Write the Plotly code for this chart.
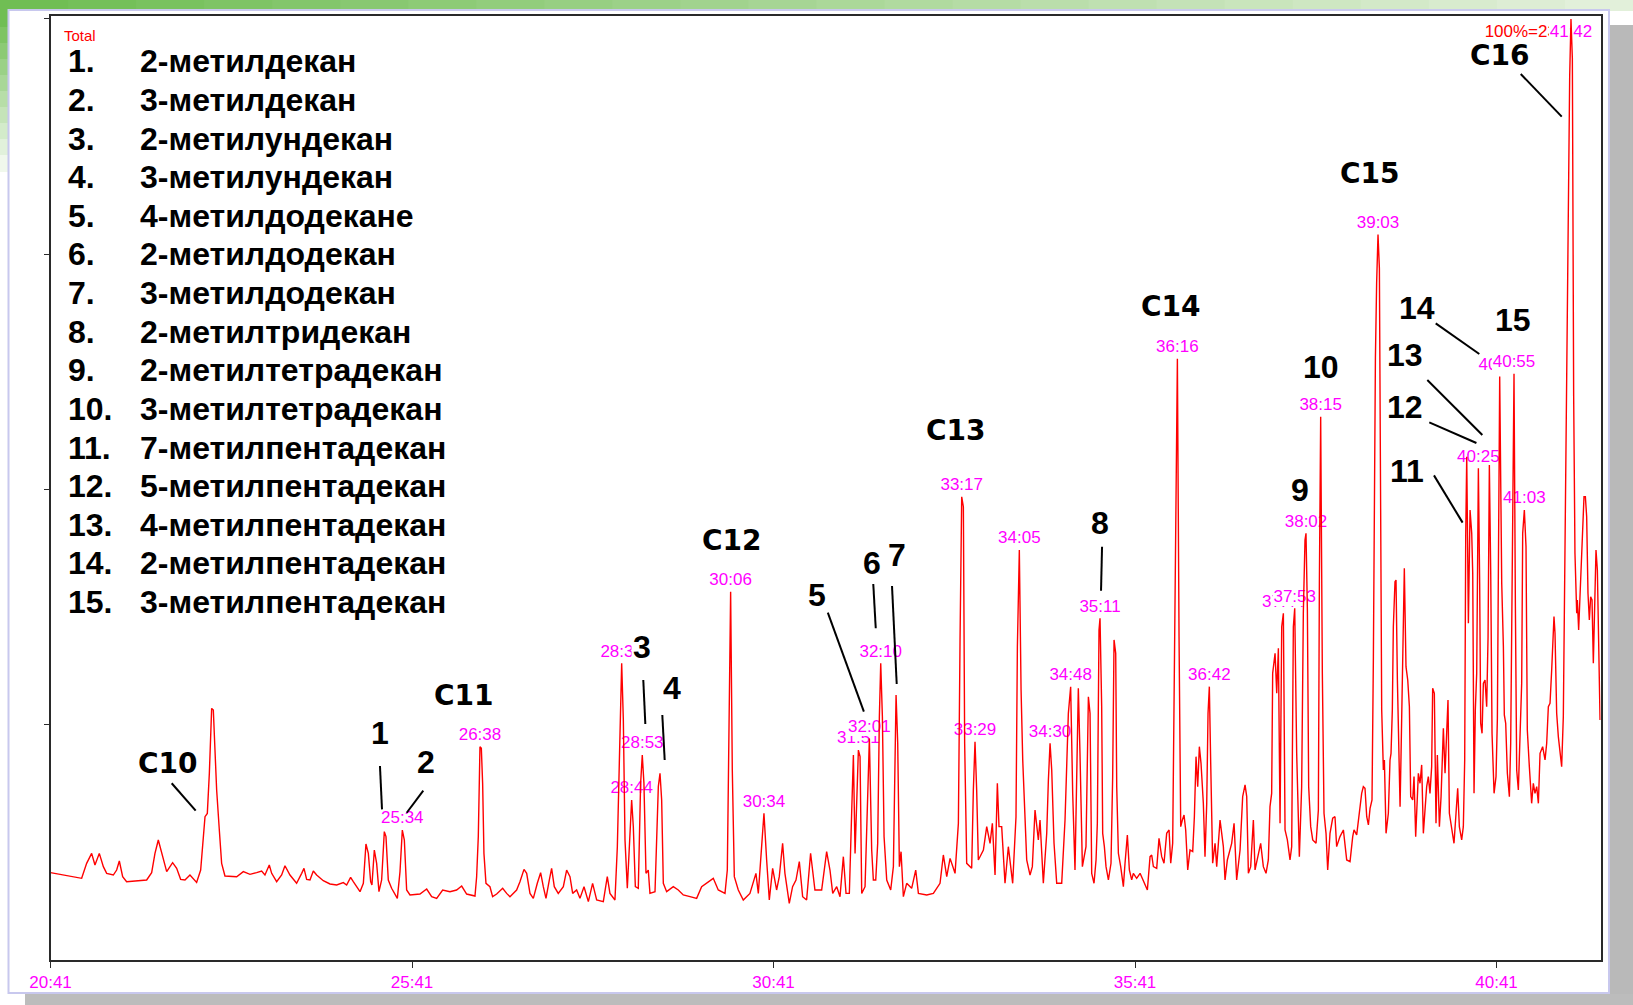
import plotly.graph_objects as go

W, H = 1633, 1005

# ---------------- chromatogram: retention time (min) / relative abundance (%) ----------------
rt_20_24 = [20.683, 21.114, 21.183, 21.252, 21.298, 21.358, 21.414, 21.460, 21.552, 21.598,
            21.635, 21.681, 21.736, 21.875, 22.013, 22.082, 22.128, 22.174, 22.234, 22.290,
            22.372, 22.428, 22.483, 22.543, 22.612, 22.704, 22.760, 22.797, 22.820, 22.852,
            22.880, 22.912, 22.935, 22.958, 22.981, 23.018, 23.050, 23.096, 23.258, 23.350,
            23.442, 23.534, 23.603, 23.649, 23.709, 23.742, 23.811, 23.880, 23.926, 23.995,
            24.087, 24.157, 24.189, 24.226, 24.272]
ab_20_24 = [9.28, 8.68, 10.27, 11.33, 10.09, 11.33, 9.92, 9.21, 9.03, 9.56,
            10.52, 8.85, 8.32, 8.43, 8.50, 9.28, 11.33, 12.75, 10.98, 9.39,
            10.34, 9.74, 8.57, 8.50, 9.03, 8.25, 9.56, 12.75, 15.23, 15.58,
            19.83, 26.74, 26.56, 22.31, 18.06, 13.81, 10.27, 8.93, 8.85, 9.39,
            9.10, 9.28, 9.46, 9.03, 10.09, 9.21, 8.32, 9.03, 10.02, 9.03,
            8.15, 9.21, 9.74, 8.57, 8.50]

rt_24_27 = [24.318, 24.364, 24.456, 24.549, 24.641, 24.733, 24.779, 24.834, 24.871, 24.964,
            25.010, 25.046, 25.079, 25.111, 25.129, 25.162, 25.194, 25.226, 25.263, 25.300,
            25.323, 25.355, 25.401, 25.480, 25.517, 25.549, 25.577, 25.609, 25.655, 25.793,
            25.886, 25.955, 26.024, 26.107, 26.208, 26.300, 26.370, 26.439, 26.554, 26.577,
            26.600, 26.623, 26.642, 26.660, 26.678, 26.706, 26.761, 26.798, 26.854, 26.937,
            26.992, 27.038, 27.130, 27.176, 27.232, 27.269, 27.315, 27.361, 27.416, 27.462,
            27.499, 27.536, 27.582, 27.614, 27.651, 27.706, 27.776, 27.822, 27.868]
ab_24_27 = [9.46, 9.03, 8.43, 8.08, 7.97, 8.22, 7.97, 8.78, 8.32, 7.26,
            8.15, 12.33, 11.33, 8.32, 7.97, 11.69, 10.27, 7.26, 8.50, 13.64,
            13.11, 8.50, 7.62, 6.55, 9.39, 13.81, 12.75, 7.44, 6.91, 7.01,
            7.54, 6.73, 6.55, 7.44, 7.26, 7.44, 7.86, 7.01, 6.80, 8.85,
            13.11, 22.67, 22.49, 18.77, 11.33, 8.15, 7.79, 6.73, 7.01, 7.62,
            7.08, 6.73, 7.44, 8.32, 9.63, 9.21, 7.08, 6.55, 8.15, 9.28,
            7.79, 6.55, 8.50, 9.74, 7.79, 7.08, 7.79, 9.56, 8.85]

rt_27_31 = [27.905, 27.960, 28.006, 28.062, 28.122, 28.181, 28.237, 28.329, 28.384, 28.421,
            28.490, 28.523, 28.560, 28.583, 28.606, 28.629, 28.661, 28.698, 28.721, 28.744,
            28.772, 28.813, 28.845, 28.868, 28.891, 28.919, 28.951, 28.974, 29.044, 29.090,
            29.113, 29.136, 29.159, 29.205, 29.297, 29.366, 29.435, 29.528, 29.620, 29.689,
            29.758, 29.850, 29.919, 30.012, 30.044, 30.067, 30.090, 30.113, 30.141, 30.196,
            30.265, 30.357, 30.440, 30.473, 30.519, 30.551, 30.588, 30.625, 30.671, 30.726,
            30.763, 30.809, 30.841, 30.901, 30.947, 30.994, 31.040, 31.086, 31.141, 31.196,
            31.256, 31.349, 31.418, 31.464]
ab_27_31 = [7.08, 7.44, 6.55, 7.79, 6.20, 8.15, 6.38, 6.20, 8.86, 7.08,
            6.38, 12.04, 24.09, 31.52, 25.50, 12.75, 7.62, 14.17, 17.00, 14.17,
            7.79, 7.62, 18.77, 21.78, 18.77, 9.21, 9.56, 7.08, 7.26, 18.42,
            19.84, 17.00, 8.15, 7.26, 7.79, 7.44, 6.91, 6.73, 6.55, 7.79,
            8.15, 8.68, 7.44, 7.08, 9.56, 25.50, 39.14, 20.19, 8.86, 7.44,
            6.38, 7.08, 9.21, 7.08, 12.75, 15.59, 10.63, 6.38, 9.74, 7.44,
            8.86, 12.40, 9.21, 6.02, 7.79, 8.50, 10.45, 6.73, 6.38, 11.34,
            7.44, 7.44, 11.51, 9.56]

rt_31_35 = [31.502, 31.557, 31.603, 31.649, 31.686, 31.732, 31.765, 31.788, 31.811, 31.834,
            31.857, 31.880, 31.903, 31.949, 31.981, 32.009, 32.041, 32.064, 32.097, 32.124,
            32.147, 32.166, 32.189, 32.212, 32.249, 32.304, 32.341, 32.364, 32.378, 32.401,
            32.424, 32.447, 32.479, 32.525, 32.594, 32.650, 32.687, 32.802, 32.894, 32.986,
            33.032, 33.079, 33.125, 33.194, 33.240, 33.263, 33.286, 33.309, 33.327, 33.355,
            33.424, 33.447, 33.470, 33.493, 33.516, 33.586, 33.632, 33.678, 33.710, 33.747,
            33.779, 33.802, 33.839, 33.885, 33.931, 33.991, 34.037, 34.056, 34.083, 34.107,
            34.130, 34.185, 34.231, 34.263, 34.300, 34.346, 34.369, 34.415, 34.462, 34.485,
            34.508, 34.531, 34.563, 34.600, 34.669, 34.715, 34.761, 34.793, 34.821, 34.853,
            34.876, 34.899, 34.922, 34.955, 35.005, 35.038, 35.061]
ab_31_35 = [7.08, 7.79, 6.73, 10.98, 7.08, 7.08, 15.94, 21.78, 11.33, 15.94,
            22.31, 21.61, 7.08, 7.79, 16.65, 23.55, 11.69, 8.50, 8.50, 12.40,
            25.86, 31.52, 25.86, 13.11, 8.50, 7.44, 9.92, 23.02, 28.16, 23.02,
            9.92, 11.51, 6.73, 8.15, 7.62, 9.56, 7.08, 6.91, 7.08, 8.15,
            11.16, 8.85, 10.80, 9.21, 14.52, 34.00, 49.23, 48.17, 23.02, 10.27,
            9.74, 18.06, 23.20, 18.06, 10.63, 11.69, 14.17, 12.40, 14.52, 9.03,
            18.77, 14.17, 14.17, 8.15, 12.04, 8.15, 15.23, 33.29, 43.57, 28.69,
            21.25, 10.63, 9.03, 9.92, 15.94, 12.75, 14.88, 8.15, 13.46, 19.13,
            23.02, 20.19, 12.40, 8.15, 8.15, 14.88, 26.21, 29.04, 17.71, 9.56,
            21.96, 28.87, 21.96, 9.92, 12.04, 27.98, 26.21]

rt_35_38 = [35.084, 35.116, 35.144, 35.162, 35.185, 35.199, 35.222, 35.236, 35.259, 35.282,
            35.315, 35.351, 35.374, 35.393, 35.416, 35.430, 35.453, 35.485, 35.522, 35.545,
            35.577, 35.605, 35.637, 35.660, 35.706, 35.753, 35.799, 35.854, 35.891, 35.914,
            35.937, 35.983, 36.015, 36.052, 36.084, 36.121, 36.154, 36.177, 36.204, 36.223,
            36.246, 36.269, 36.292, 36.315, 36.338, 36.361, 36.384, 36.412, 36.444, 36.481,
            36.504, 36.527, 36.550, 36.573, 36.596, 36.628, 36.651, 36.675, 36.693, 36.711,
            36.730, 36.757, 36.790, 36.813, 36.859, 36.905, 36.928, 36.960, 37.020, 37.053,
            37.089, 37.136, 37.172, 37.205, 37.228, 37.251, 37.283, 37.320, 37.343, 37.389,
            37.421, 37.458, 37.495, 37.527, 37.550, 37.573, 37.587, 37.620, 37.643, 37.666,
            37.689, 37.712, 37.735, 37.758, 37.790, 37.827, 37.850, 37.873, 37.892, 37.919,
            37.956, 37.988, 38.011, 38.034, 38.048, 38.067, 38.085, 38.113, 38.141, 38.187,
            38.219, 38.233, 38.251, 38.274, 38.297, 38.325, 38.348, 38.380, 38.417, 38.449,
            38.472, 38.518, 38.565, 38.611, 38.657]
ab_35_38 = [9.21, 8.15, 10.63, 14.53, 35.07, 36.31, 26.92, 13.46, 12.05, 9.92,
            8.51, 10.28, 19.49, 34.01, 32.59, 18.42, 11.34, 9.92, 7.80, 10.28,
            13.29, 9.57, 8.51, 9.21, 8.68, 9.21, 8.33, 7.44, 10.98, 11.16,
            9.92, 9.74, 12.93, 10.98, 10.28, 13.46, 13.82, 10.28, 12.40, 29.76,
            51.72, 63.90, 34.36, 14.17, 14.88, 15.41, 13.82, 9.57, 11.69, 11.52,
            15.23, 21.61, 18.42, 22.67, 20.90, 16.65, 10.98, 16.65, 26.22, 29.05,
            20.90, 10.28, 12.40, 9.92, 14.88, 12.05, 8.51, 10.63, 12.40, 14.53,
            8.51, 11.69, 17.36, 18.60, 17.36, 9.21, 9.92, 14.88, 9.57, 11.34,
            12.40, 9.92, 9.21, 10.63, 16.30, 17.71, 30.47, 32.59, 28.34, 33.12,
            14.53, 35.42, 36.84, 13.82, 12.76, 10.63, 12.05, 35.42, 37.37, 21.96,
            10.98, 18.42, 36.84, 44.63, 45.34, 37.20, 18.42, 14.17, 12.76, 12.40,
            15.94, 40.21, 57.74, 30.47, 15.59, 13.46, 9.57, 13.46, 15.06, 15.23,
            12.05, 13.11, 13.82, 10.63, 10.45]

rt_38_42 = [38.694, 38.712, 38.749, 38.786, 38.818, 38.841, 38.864, 38.888, 38.911, 38.934,
            38.961, 38.980, 38.994, 39.008, 39.025, 39.044, 39.063, 39.081, 39.095, 39.118,
            39.132, 39.155, 39.187, 39.210, 39.224, 39.242, 39.256, 39.279, 39.293, 39.312,
            39.335, 39.349, 39.362, 39.385, 39.408, 39.431, 39.455, 39.478, 39.496, 39.524,
            39.542, 39.565, 39.602, 39.625, 39.648, 39.671, 39.717, 39.740, 39.763, 39.786,
            39.800, 39.823, 39.846, 39.865, 39.893, 39.916, 39.948, 39.971, 39.994, 40.012,
            40.031, 40.063, 40.095, 40.123, 40.146, 40.169, 40.201, 40.224, 40.243, 40.257,
            40.271, 40.294, 40.317, 40.340, 40.354, 40.372, 40.390, 40.409, 40.432, 40.450,
            40.464, 40.483, 40.501, 40.524, 40.547, 40.566, 40.584, 40.603, 40.621, 40.649,
            40.676, 40.695, 40.713, 40.727, 40.755, 40.778, 40.791, 40.810, 40.833, 40.861,
            40.879, 40.902, 40.925, 40.944, 40.962, 40.985, 41.008, 41.031, 41.045, 41.068,
            41.091, 41.109, 41.137, 41.169, 41.192, 41.215, 41.239, 41.262, 41.285, 41.321,
            41.354, 41.377, 41.400, 41.423, 41.446, 41.460, 41.478, 41.492, 41.515, 41.538,
            41.561, 41.584, 41.607, 41.630, 41.654, 41.677, 41.695, 41.713, 41.732, 41.750,
            41.768, 41.792, 41.801, 41.819, 41.838, 41.861, 41.875, 41.893, 41.912, 41.930,
            41.948, 41.967, 41.985, 42.004, 42.022, 42.041, 42.059, 42.078, 42.096, 42.115]
ab_38_42 = [13.11, 13.82, 13.29, 15.94, 17.71, 18.42, 18.25, 15.23, 14.35, 16.12,
            17.01, 32.24, 54.20, 64.00, 72.00, 77.10, 73.50, 50.00, 26.57, 20.19,
            21.26, 13.46, 15.59, 21.26, 21.96, 26.57, 35.42, 40.21, 40.38, 29.76,
            18.42, 16.30, 21.61, 32.24, 41.62, 31.17, 29.76, 26.92, 17.36, 17.01,
            19.49, 13.11, 19.84, 18.78, 20.73, 13.46, 18.42, 19.49, 17.71, 20.55,
            28.87, 28.34, 14.53, 21.79, 14.17, 17.36, 24.62, 19.84, 25.15, 27.63,
            15.59, 14.17, 12.40, 15.59, 18.25, 14.17, 12.76, 14.17, 21.26, 44.99,
            53.49, 35.78, 47.82, 45.34, 41.09, 17.71, 26.57, 30.47, 52.25, 40.03,
            25.15, 24.09, 29.40, 29.76, 26.92, 34.36, 52.60, 41.09, 24.09, 17.71,
            19.49, 25.68, 47.47, 62.00, 40.03, 33.30, 26.04, 25.15, 19.84, 17.36,
            23.03, 43.57, 62.30, 37.55, 20.19, 18.07, 23.74, 29.40, 45.34, 47.82,
            43.93, 24.44, 20.55, 16.65, 18.78, 17.71, 18.42, 16.65, 21.96, 22.67,
            21.26, 23.03, 26.92, 27.28, 30.82, 34.36, 36.49, 34.72, 26.22, 23.74,
            22.32, 20.55, 25.86, 43.93, 67.80, 81.50, 93.90, 100.00, 95.80, 60.00,
            43.22, 36.84, 38.26, 35.07, 38.61, 43.93, 47.11, 49.24, 49.24, 47.11,
            38.97, 36.13, 38.61, 38.26, 31.53, 38.97, 43.57, 41.45, 35.07, 25.51]

rt = rt_20_24 + rt_24_27 + rt_27_31 + rt_31_35 + rt_35_38 + rt_38_42
ab = ab_20_24 + ab_24_27 + ab_27_31 + ab_31_35 + ab_35_38 + ab_38_42

# ---------------- retention-time labels above peaks ----------------
peak_txt = ["25:34", "26:38", "28:35", "28:44", "28:53", "30:06", "30:34", "32:10",
            "33:17", "33:29", "34:05", "34:30", "34:48", "35:11", "36:16", "36:42",
            "38:02", "38:15", "39:03", "40:25", "41:03"]
peak_rt = [25.549, 26.623, 28.583, 28.721, 28.868, 30.090, 30.551, 32.166,
           33.286, 33.470, 34.083, 34.508, 34.793, 35.199, 36.269, 36.711,
           38.048, 38.251, 39.044, 40.432, 41.068]
peak_ab = [13.81, 22.67, 31.52, 17.00, 21.78, 39.14, 15.59, 31.52,
           49.23, 23.20, 43.57, 23.02, 29.04, 36.31, 63.90, 29.05,
           45.34, 57.74, 77.10, 52.25, 47.82]

# labels that sit partly behind a neighbouring label
under_txt = ["31:51", "37:44", "40:44"]
under_rt = [31.857, 37.735, 40.727]
under_ab = [22.31, 36.84, 62.00]
over_txt = ["32:01", "37:53", "40:55"]
over_rt = [32.009, 37.892, 40.925]
over_ab = [23.55, 37.37, 62.30]

top_txt = "41:42"
top_rt = 41.713
scale_txt = "100%=23"

# ---------------- compound numbering ----------------
compounds = ["2-метилдекан", "3-метилдекан", "2-метилундекан", "3-метилундекан",
             "4-метилдодекане", "2-метилдодекан", "3-метилдодекан", "2-метилтридекан",
             "2-метилтетрадекан", "3-метилтетрадекан", "7-метилпентадекан",
             "5-метилпентадекан", "4-метилпентадекан", "2-метилпентадекан",
             "3-метилпентадекан"]
num_rt = [25.240, 25.877, 28.860, 29.275, 31.289, 32.050, 32.387, 35.199,
          37.961, 38.250, 39.444, 39.418, 39.418, 39.579, 40.915]
num_ab = [24.09, 21.07, 33.30, 28.87, 38.79, 42.16, 43.04, 46.41,
          50.00, 63.06, 51.98, 58.75, 64.29, 69.25, 68.01]
# leader lines: (label, rt from, abundance from, rt to, abundance to)
leaders = [("1", 25.240, 20.62, 25.268, 16.01),
           ("2", 25.839, 17.99, 25.610, 15.65),
           ("3", 28.882, 29.76, 28.910, 25.08),
           ("4", 29.145, 26.04, 29.178, 21.25),
           ("5", 31.434, 36.91, 31.933, 26.39),
           ("6", 32.063, 39.96, 32.097, 35.25),
           ("7", 32.322, 39.74, 32.387, 29.33),
           ("8", 35.227, 43.92, 35.213, 39.25),
           ("11", 39.818, 51.50, 40.214, 46.48),
           ("12", 39.753, 57.14, 40.405, 54.94),
           ("13", 39.726, 61.64, 40.487, 55.80),
           ("14", 39.842, 67.66, 40.445, 64.40),
           ("C10", 22.359, 18.78, 22.691, 15.87),
           ("C16", 41.018, 94.15, 41.585, 89.62)]

alkanes = ["C10", "C11", "C12", "C13", "C14", "C15", "C16"]
alk_rt = [22.312, 26.409, 30.112, 33.209, 36.175, 38.933, 40.731]
alk_ab = [20.90, 28.09, 44.58, 56.31, 69.48, 83.60, 96.17]

tick_rt = [20.6833, 25.6833, 30.6833, 35.6833, 40.6833]
tick_txt = ["20:41", "25:41", "30:41", "35:41", "40:41"]

# ---------------- geometry ----------------
X_LEFT, X_RIGHT = 50.5, 1600.7       # plot frame, px
Y_TOP, Y_BOTTOM = 15.7, 960.0
RT_MIN, RT_MAX = 20.683, 42.124
AB_MAX = 100.35
px_per_min = (X_RIGHT - X_LEFT) / (RT_MAX - RT_MIN)
px_per_pct = (Y_BOTTOM - Y_TOP) / AB_MAX

MAGENTA = "#ff00ff"
SANS = "Liberation Sans, Arial, sans-serif"
LBL_FONT = dict(family=SANS, size=17, color=MAGENTA)

fig = go.Figure()


def white_box(x, y_bottom, half_w_px, h_px):
    dx = half_w_px / px_per_min
    dy = h_px / px_per_pct
    fig.add_trace(go.Scatter(
        x=[x - dx, x + dx, x + dx, x - dx, x - dx],
        y=[y_bottom, y_bottom, y_bottom + dy, y_bottom + dy, y_bottom],
        mode="lines", fill="toself", fillcolor="white", line=dict(width=0),
        hoverinfo="skip", showlegend=False))


LIFT = 0.25   # gap between a peak apex and its label, in %
TOP_Y = (Y_BOTTOM - 33) / px_per_pct

# labels partially hidden
fig.add_trace(go.Scatter(x=under_rt, y=[v + LIFT for v in under_ab], text=under_txt,
                         mode="text", textposition="top center", textfont=LBL_FONT,
                         hoverinfo="skip", showlegend=False))
fig.add_trace(go.Scatter(x=[top_rt - 14 / px_per_min], y=[TOP_Y],
                         text=[scale_txt], mode="text", textposition="middle left",
                         textfont=dict(family=SANS, size=17, color="#ff0000"),
                         hoverinfo="skip", showlegend=False))
for x, y in zip(over_rt, over_ab):
    white_box(x, y + LIFT, 22, 19)
white_box(top_rt, TOP_Y - 9.5 / px_per_pct, 22, 19)

# visible labels
fig.add_trace(go.Scatter(x=peak_rt + over_rt, y=[v + LIFT for v in peak_ab + over_ab],
                         text=peak_txt + over_txt, mode="text", textposition="top center",
                         textfont=LBL_FONT, hoverinfo="skip", showlegend=False))
fig.add_trace(go.Scatter(x=[top_rt], y=[TOP_Y], text=[top_txt],
                         mode="text", textposition="middle center", textfont=LBL_FONT,
                         hoverinfo="skip", showlegend=False))

# total ion current trace
fig.add_trace(go.Scatter(x=rt, y=ab, mode="lines", line=dict(color="#ff0000", width=1.4),
                         hoverinfo="skip", showlegend=False))

# ---------------- page decoration ----------------
shapes = []


def prect(x0, y0, x1, y1, color, line=None):
    d = dict(type="rect", xref="paper", yref="paper", x0=x0 / W, x1=x1 / W,
             y0=1 - y1 / H, y1=1 - y0 / H, fillcolor=color, layer="below")
    d["line"] = line if line else dict(width=0)
    shapes.append(d)


# green header band, fading to the right
steps = 24
for i in range(steps):
    f = i / (steps - 1)
    r = int(112 + (226 - 112) * f)
    g = int(190 + (240 - 190) * f)
    b = int(84 + (218 - 84) * f)
    prect(W * i / steps, 0, W * (i + 1) / steps + 1, 11, f"rgb({r},{g},{b})")
# green strip down the left edge
for i in range(10):
    f = i / 9
    r = int(112 + (240 - 112) * f)
    g = int(190 + (248 - 190) * f)
    b = int(84 + (236 - 84) * f)
    prect(0, 11 + 16 * i, 9, 11 + 16 * (i + 1) + 1, f"rgb({r},{g},{b})")
# drop shadow right and bottom
prect(1610, 25, W, H, "#b9b9b9")
prect(25, 994, W, H, "#bcbcbc")
# window frame
prect(8.5, 10, 1609, 993, "white", line=dict(color="#c8c8ee", width=2))

# leader lines
for name, x0, y0, x1, y1 in leaders:
    shapes.append(dict(type="line", xref="x", yref="y", x0=x0, y0=y0, x1=x1, y1=y1,
                       line=dict(color="black", width=2), layer="above"))

# ---------------- annotations ----------------
ann = []
ann.append(dict(text="Total", xref="paper", yref="paper", x=62 / W, y=1 - 35.5 / H,
                xanchor="left", yanchor="middle", showarrow=False,
                font=dict(family=SANS, size=15, color="#ff0000")))
for i, name in enumerate(compounds):
    yc = 1 - (61.4 + i * 38.61) / H
    ann.append(dict(text=f"<b>{i + 1}.</b>", xref="paper", yref="paper", x=66 / W, y=yc,
                    xanchor="left", yanchor="middle", showarrow=False,
                    font=dict(family=SANS, size=32, color="black")))
    ann.append(dict(text=f"<b>{name}</b>", xref="paper", yref="paper", x=138 / W, y=yc,
                    xanchor="left", yanchor="middle", showarrow=False,
                    font=dict(family=SANS, size=32, color="black")))
for i, (x, y) in enumerate(zip(num_rt, num_ab)):
    ann.append(dict(text=f"<b>{i + 1}</b>", x=x, y=y, xref="x", yref="y",
                    xanchor="center", yanchor="middle", showarrow=False,
                    bgcolor="white" if i == 2 else "rgba(0,0,0,0)",
                    font=dict(family=SANS, size=32, color="black")))
for name, x, y in zip(alkanes, alk_rt, alk_ab):
    ann.append(dict(text=f"<b>{name}</b>", x=x, y=y, xref="x", yref="y",
                    xanchor="center", yanchor="middle", showarrow=False,
                    font=dict(family="DejaVu Sans, sans-serif", size=28, color="black")))

fig.update_layout(
    width=W, height=H, autosize=False,
    margin=dict(l=0, r=0, t=0, b=0, pad=0),
    paper_bgcolor="white", plot_bgcolor="rgba(0,0,0,0)",
    shapes=shapes, annotations=ann, showlegend=False,
    xaxis=dict(domain=[X_LEFT / W, X_RIGHT / W], range=[RT_MIN, RT_MAX], automargin=False,
               showgrid=False, zeroline=False, showline=True, linecolor="#2a2a2a",
               linewidth=1.5, mirror=True, ticks="outside", ticklen=6, tickwidth=1.2,
               tickcolor="#2a2a2a", tickvals=tick_rt, ticktext=tick_txt,
               tickfont=LBL_FONT, fixedrange=True),
    yaxis=dict(domain=[1 - Y_BOTTOM / H, 1 - Y_TOP / H], range=[0, AB_MAX], automargin=False,
               showgrid=False, zeroline=False, showline=True, linecolor="#2a2a2a",
               linewidth=1.5, mirror=True, ticks="outside", ticklen=5, tickwidth=1.2,
               tickcolor="#2a2a2a", tickvals=[25, 50, 75, 100], showticklabels=False,
               fixedrange=True),
)

fig.write_html("out.html", post_script="document.body.style.margin='0';")
